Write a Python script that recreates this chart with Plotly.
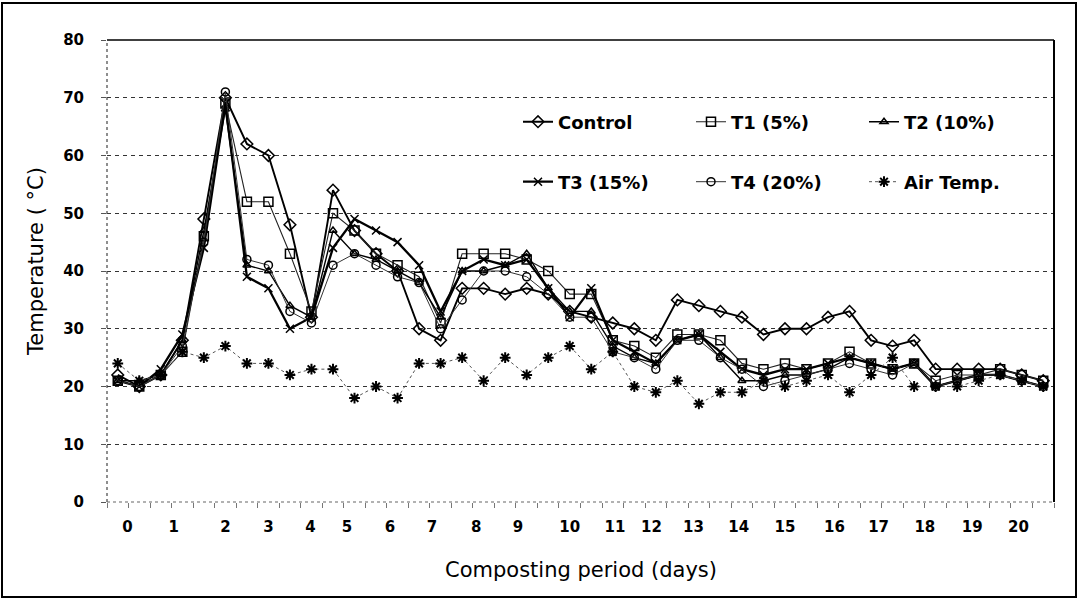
import plotly.graph_objects as go

# ---------------- data ----------------
# sampling points (category index along the composting period)
sample_idx = list(range(44))

control = [22, 20, 22, 28, 49, 70, 62, 60, 48, 32, 54, 47, 43, 40, 30, 28, 37, 37, 36, 37, 36, 33,
           32, 31, 30, 28, 35, 34, 33, 32, 29, 30, 30, 32, 33, 28, 27, 28, 23, 23, 23, 23, 22, 21]
t1 = [21, 20, 22, 26, 46, 69, 52, 52, 43, 33, 50, 47, 43, 41, 39, 31, 43, 43, 43, 42, 40, 36,
      36, 28, 27, 25, 29, 29, 28, 24, 23, 24, 23, 24, 26, 24, 23, 24, 21, 22, 22, 23, 22, 21]
t2 = [21, 21, 22, 28, 47, 68, 41, 40, 34, 32, 47, 43, 42, 40, 38, 32, 40, 40, 41, 43, 37, 33,
      33, 27, 25, 24, 28, 29, 25, 21, 21, 22, 22, 23, 25, 24, 23, 24, 20, 21, 22, 22, 21, 20]
t3 = [21, 20, 23, 29, 44, 69, 39, 37, 30, 32, 44, 49, 47, 45, 41, 33, 40, 42, 41, 42, 37, 32,
      37, 28, 26, 24, 28, 29, 26, 23, 22, 23, 23, 24, 25, 24, 23, 24, 20, 21, 22, 22, 21, 20]
t4 = [21, 20, 22, 27, 45, 71, 42, 41, 33, 31, 41, 43, 41, 39, 38, 30, 35, 40, 40, 39, 36, 32,
      32, 26, 25, 23, 28, 28, 25, 23, 20, 21, 22, 23, 24, 23, 22, 24, 20, 21, 22, 22, 21, 20]
air = [24, 21, 22, 26, 25, 27, 24, 24, 22, 23, 23, 18, 20, 18, 24, 24, 25, 21, 25, 22, 25, 27,
       23, 26, 20, 19, 21, 17, 19, 19, 21, 20, 21, 22, 19, 22, 25, 20, 20, 20, 21, 22, 21, 20]

# day labels and where they sit along the sampling axis
day_labels = [str(d) for d in range(21)]
day_label_pos = [0.45, 2.6, 5.0, 7.0, 8.95, 10.65, 12.65, 14.6, 16.65, 18.6, 21.0,
                 23.1, 24.8, 26.75, 28.85, 31.0, 33.3, 35.35, 37.5, 39.7, 41.85]
# minor tick marks between sampling points
boundary_pos = [i - 0.5 for i in range(45)]

y_ticks = [0, 10, 20, 30, 40, 50, 60, 70, 80]

# ---------------- figure ----------------
L, R, T, B = 107, 24, 40, 98
W, H = 1078, 600
pw, ph = W - L - R, H - T - B

def px_x(p):
    return (p - L) / pw

def px_y(p):
    return (H - B - p) / ph

fig = go.Figure()

series = [
    ("Control", control, "diamond-open", 9, 1.9, "black", "solid", "legend"),
    ("T1 (5%)", t1, "square-open", 9, 1.1, "#222", "solid", "legend"),
    ("T2 (10%)", t2, "triangle-up-open", 7, 1.4, "black", "solid", "legend"),
    ("T3 (15%)", t3, "x-thin-open", 8, 2.3, "black", "solid", "legend2"),
    ("T4 (20%)", t4, "circle-open", 8, 1.0, "#333", "solid", "legend2"),
    ("Air Temp.", air, "asterisk-open", 9, 1.0, "#555", "dot", "legend2"),
]

for name, vals, sym, size, lw, col, dash, leg in series:
    mcol = "black"
    fig.add_trace(go.Scatter(
        x=sample_idx, y=vals, name=name, mode="lines+markers",
        line=dict(color=col, width=lw, dash=dash),
        marker=dict(symbol=sym, size=size, color=mcol,
                    line=dict(color=mcol, width=2 if name == "Air Temp." else 1.5)),
        legend=leg,
    ))

legend_font = dict(family="DejaVu Sans", size=18, color="black", weight="bold")

fig.update_layout(
    width=W, height=H,
    margin=dict(l=L, r=R, t=T, b=B),
    paper_bgcolor="white", plot_bgcolor="white",
    showlegend=True,
    legend=dict(orientation="h", x=px_x(518), y=px_y(122), xanchor="left", yanchor="middle",
                font=legend_font, bgcolor="rgba(0,0,0,0)", entrywidth=128,
                entrywidthmode="pixels", traceorder="normal"),
    legend2=dict(orientation="h", x=px_x(518), y=px_y(182), xanchor="left", yanchor="middle",
                 font=legend_font, bgcolor="rgba(0,0,0,0)", entrywidth=128,
                 entrywidthmode="pixels", traceorder="normal"),
    xaxis=dict(
        range=[-0.5, 43.5], tickmode="array", tickvals=day_label_pos, ticktext=day_labels,
        ticks="", showgrid=False, zeroline=False, showline=False,
        tickfont=dict(family="DejaVu Sans", size=15, color="black", weight="bold"),
        ticklabelstandoff=14,
        minor=dict(tickmode="array", tickvals=boundary_pos, ticks="outside", ticklen=5,
                   tickcolor="#777", tickwidth=1, showgrid=False),
    ),
    yaxis=dict(
        range=[0, 80], tickmode="array", tickvals=y_ticks, ticks="outside", ticklen=5,
        tickcolor="#555", showgrid=True, gridcolor="#333", gridwidth=1, griddash="4px,4px",
        zeroline=False, showline=False,
        tickfont=dict(family="DejaVu Sans", size=15, color="black", weight="bold"),
        ticklabelstandoff=14,
    ),
    annotations=[
        dict(text="Temperature ( °C)", xref="paper", yref="paper", x=px_x(36), y=px_y(262),
             textangle=-90, showarrow=False, xanchor="center", yanchor="middle",
             font=dict(family="DejaVu Sans", size=21, color="black")),
        dict(text="Composting period (days)", xref="paper", yref="paper", x=0.5, y=px_y(570),
             showarrow=False, xanchor="center", yanchor="middle",
             font=dict(family="DejaVu Sans", size=21, color="black")),
    ],
    shapes=[
        # plot frame: solid top/right, dotted left/bottom
        dict(type="line", xref="paper", yref="paper", x0=0, x1=1, y0=1, y1=1,
             line=dict(color="black", width=1.5)),
        dict(type="line", xref="paper", yref="paper", x0=1, x1=1, y0=0, y1=1,
             line=dict(color="black", width=2)),
        dict(type="line", xref="paper", yref="paper", x0=0, x1=0, y0=0, y1=1,
             line=dict(color="#444", width=1.2, dash="dot")),
        dict(type="line", xref="paper", yref="paper", x0=0, x1=1, y0=0, y1=0,
             line=dict(color="#666", width=1.2, dash="dot")),
        # outer chart border
        dict(type="rect", xref="paper", yref="paper",
             x0=px_x(2), x1=px_x(1076), y0=px_y(597), y1=px_y(3),
             line=dict(color="black", width=2)),
    ],
)

fig.write_html("out.html", config={"displayModeBar": False},
               post_script="document.body.style.margin='0px';")
